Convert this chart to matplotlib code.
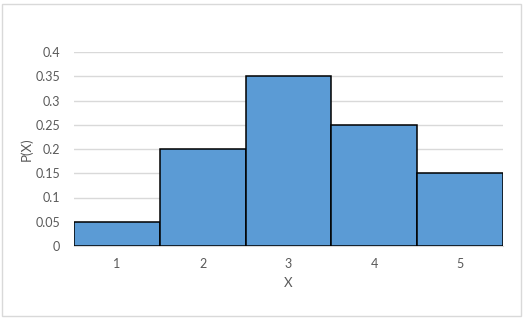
import numpy as np
import matplotlib.pyplot as plt
from matplotlib.patches import Rectangle

x_vals = [1, 2, 3, 4, 5]
probs = [0.05, 0.2, 0.35, 0.25, 0.15]
y_ticks = [0, 0.05, 0.1, 0.15, 0.2, 0.25, 0.3, 0.35, 0.4]
y_labels = ['0', '0.05', '0.1', '0.15', '0.2', '0.25', '0.3', '0.35', '0.4']

plt.rcParams['font.family'] = ['Lato', 'DejaVu Sans']
txt = '#595959'

fig = plt.figure(figsize=(5.24, 3.2), dpi=100)
ax = fig.add_axes([74/524, 1-246/320, (503-74)/524, (246-52)/320])

ax.bar(x_vals, probs, width=1.0, color='#5B9BD5', edgecolor='black', linewidth=1.1, zorder=3)

ax.set_xlim(0.5, 5.5)
ax.set_ylim(0, 0.4)
ax.set_yticks(y_ticks)
ax.set_yticklabels(y_labels)
ax.set_xticks(x_vals)
ax.tick_params(length=0, colors=txt, labelsize=9)
ax.tick_params(axis='x', pad=9)
ax.tick_params(axis='y', pad=10)
ax.grid(axis='y', color='#D9D9D9', linewidth=1, zorder=0)
for s in ['top', 'right', 'left']:
    ax.spines[s].set_visible(False)
ax.spines['bottom'].set_color('#D9D9D9')
ax.set_xlabel('X', color=txt, fontsize=9.5, labelpad=5)
ax.set_ylabel('P(X)', color=txt, fontsize=9.5, labelpad=2)

fig.patches.append(Rectangle((2/524, 4/320), 519/524, 312/320, transform=fig.transFigure,
                             fill=False, edgecolor='#D9D9D9', linewidth=1))

plt.savefig('out.png', dpi=100)
